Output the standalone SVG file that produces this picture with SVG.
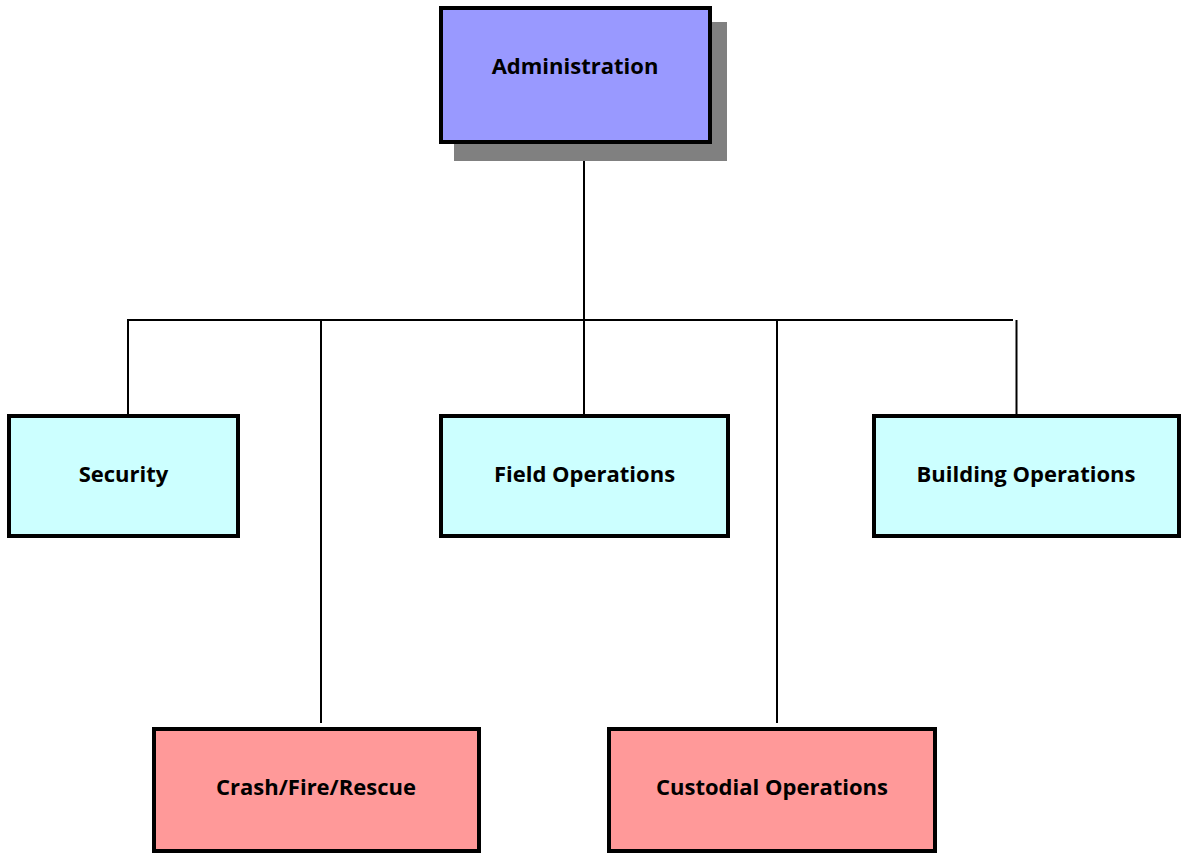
<svg xmlns="http://www.w3.org/2000/svg" width="1181" height="854" viewBox="0 0 1181 854">
<style>
.box{stroke:#000;stroke-width:4}
.adm{fill:#9999ff}
.mid{fill:#ccffff}
.low{fill:#ff9999}
.shadow{fill:#808080}
.lbl{font-family:"Open Sans","Liberation Sans",sans-serif;font-weight:bold;font-size:22px;fill:#000;text-anchor:middle}
.con{stroke:#000;stroke-width:2;fill:none}
</style>
<rect x="0" y="0" width="1181" height="854" fill="#fff"/>
<g id="connectors">
<line class="con" x1="584" y1="150" x2="584" y2="421"/>
<line class="con" x1="127" y1="320" x2="1013" y2="320"/>
<line class="con" x1="128" y1="320" x2="128" y2="414"/>
<line class="con" x1="321" y1="320" x2="321" y2="723"/>
<line class="con" x1="777" y1="320" x2="777" y2="723"/>
<line class="con" x1="1016.5" y1="320" x2="1016.5" y2="414"/>
</g>
<g id="administration">
<rect class="shadow" x="454" y="22" width="273" height="139"/>
<rect class="box adm" x="441" y="8" width="269" height="134"/>
<text class="lbl" x="575" y="74">Administration</text>
</g>
<g id="security">
<rect class="box mid" x="9" y="416" width="229" height="120"/>
<text class="lbl" x="123.5" y="482">Security</text>
</g>
<g id="field-operations">
<rect class="box mid" x="441" y="416" width="287" height="120"/>
<text class="lbl" x="584.5" y="482">Field Operations</text>
</g>
<g id="building-operations">
<rect class="box mid" x="874" y="416" width="305" height="120"/>
<text class="lbl" x="1026" y="482">Building Operations</text>
</g>
<g id="crash-fire-rescue">
<rect class="box low" x="154" y="729" width="325" height="122"/>
<text class="lbl" x="316" y="795">Crash/Fire/Rescue</text>
</g>
<g id="custodial-operations">
<rect class="box low" x="609" y="729" width="326" height="122"/>
<text class="lbl" x="772" y="795">Custodial Operations</text>
</g>
</svg>
